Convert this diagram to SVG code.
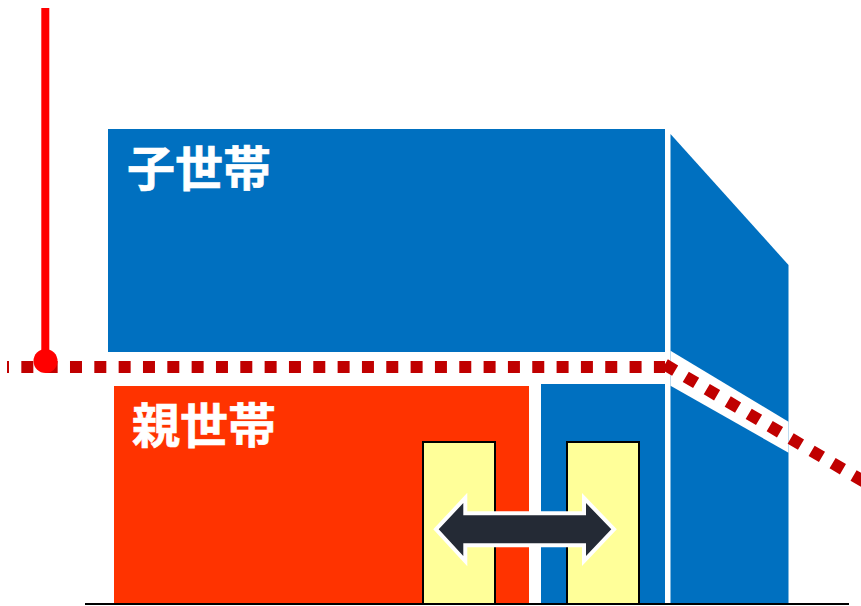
<svg xmlns="http://www.w3.org/2000/svg" width="861" height="606" viewBox="0 0 861 606">
<style>
.blue{fill:#0070c0}
.label{fill:#fff;stroke:#fff;stroke-width:.6;font-family:"Noto Sans CJK JP","Noto Sans CJK SC",sans-serif;font-weight:700;font-size:48px}
.door{fill:#ffff99;stroke:#000;stroke-width:2}
.dash{fill:none;stroke:#c00000;stroke-width:12;stroke-dasharray:12 12.33}
</style>
<rect width="861" height="606" fill="#fff"/>
<g id="child-household">
<rect class="blue" x="108" y="129" width="557" height="223"/>
<text class="label" x="127" y="186">子世帯</text>
</g>
<g id="parent-household">
<rect x="114" y="386" width="415" height="218" fill="#ff3300"/>
<text class="label" x="132" y="443">親世帯</text>
</g>
<g id="parent-side-blue">
<rect class="blue" x="541" y="384" width="124" height="220"/>
</g>
<g id="side-wall">
<polygon class="blue" points="670.5,134 788.5,265 788.5,605 670.5,605"/>
<polygon fill="#fff" points="670.5,350.7 788.5,421.7 788.5,452.8 670.5,385.7"/>
</g>
<g id="door-left"><rect class="door" x="423" y="442" width="72" height="162"/></g>
<g id="door-right"><rect class="door" x="567" y="442" width="72" height="162"/></g>
<g id="connectors">
<line x1="85" y1="604" x2="849" y2="604" stroke="#000" stroke-width="2"/>
<line class="dash" x1="7" y1="367" x2="665" y2="367" stroke-dashoffset="10"/>
<line class="dash" x1="664.8" y1="364.5" x2="880" y2="491"/>
<line x1="45.3" y1="8" x2="45.3" y2="361" stroke="#ff0000" stroke-width="8"/>
<circle cx="45.5" cy="361" r="12" fill="#ff0000"/>
<polygon points="438.7,529.3 463.3,503 463.3,515.3 586,515.3 586,503 611.3,529.3 586,556 586,543.3 463.3,543.3 463.3,556" fill="#242a35" stroke="#fff" stroke-width="8" paint-order="stroke"/>
</g>
</svg>
